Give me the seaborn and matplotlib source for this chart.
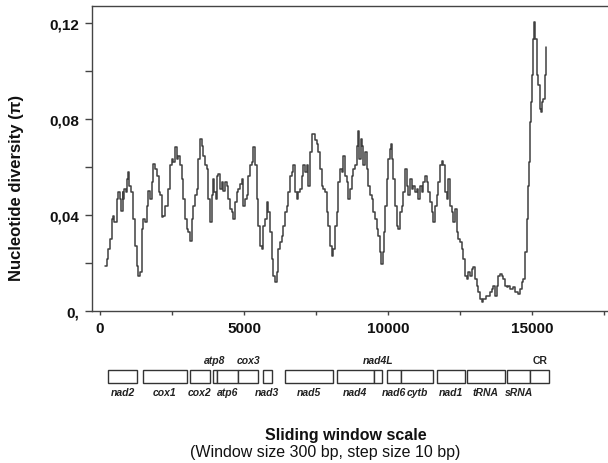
import matplotlib
matplotlib.use("Agg")
import matplotlib.pyplot as plt
import seaborn as sns
import pandas as pd
from matplotlib.patches import Rectangle
from matplotlib.ticker import FixedLocator, FixedFormatter

# ---------------- data ----------------
position_bp = [
    170, 230, 290, 350, 400, 460, 490, 580, 640, 690,
    730, 780, 810, 840, 900, 950, 980, 1020, 1060, 1160,
    1220, 1270, 1330, 1390, 1450, 1500, 1560, 1620, 1680, 1740,
    1790, 1850, 1910, 1970, 2030, 2080, 2140, 2200, 2260, 2370,
    2430, 2490, 2550, 2600, 2660, 2720, 2780, 2840, 2890, 2950,
    3010, 3070, 3120, 3180, 3240, 3300, 3360, 3410, 3470, 3530,
    3590, 3650, 3700, 3760, 3820, 3880, 3910, 3960, 4030, 4070,
    4110, 4170, 4220, 4280, 4340, 4400, 4460, 4510, 4570, 4630,
    4690, 4750, 4800, 4860, 4920, 4980, 5030, 5090, 5150, 5210,
    5270, 5320, 5380, 5440, 5500, 5560, 5610, 5670, 5730, 5790,
    5840, 5900, 5960, 6020, 6080, 6130, 6190, 6250, 6310, 6370,
    6420, 6480, 6540, 6600, 6650, 6710, 6770, 6830, 6890, 6940,
    7000, 7060, 7120, 7180, 7230, 7290, 7350, 7410, 7460, 7520,
    7580, 7640, 7700, 7750, 7810, 7870, 7930, 7990, 8040, 8100,
    8160, 8220, 8270, 8330, 8390, 8450, 8510, 8560, 8620, 8680,
    8740, 8800, 8850, 8910, 8950, 9000, 9050, 9100, 9140, 9200,
    9260, 9320, 9370, 9430, 9490, 9550, 9610, 9660, 9720, 9760,
    9810, 9860, 9900, 9950, 10010, 10070, 10100, 10150, 10180, 10240,
    10300, 10360, 10420, 10470, 10530, 10590, 10650, 10710, 10760, 10820,
    10880, 10940, 10990, 11050, 11110, 11170, 11230, 11280, 11340, 11400,
    11460, 11520, 11570, 11630, 11690, 11750, 11800, 11860, 11920, 11980,
    12040, 12090, 12150, 12210, 12270, 12330, 12380, 12440, 12500, 12560,
    12610, 12670, 12730, 12790, 12850, 12900, 12960, 13020, 13080, 13140,
    13190, 13250, 13310, 13420, 13540, 13600, 13660, 13710, 13770, 13830,
    13890, 13950, 14000, 14060, 14120, 14180, 14240, 14290, 14350, 14410,
    14470, 14520, 14580, 14640, 14700, 14760, 14810, 14870, 14890, 14930,
    14950, 14990, 15020, 15060, 15100, 15160, 15220, 15280, 15310, 15360,
    15390, 15450, 15480,
]

pi_values = [
    0.0189, 0.0217, 0.0258, 0.0300, 0.0383, 0.0397, 0.0369, 0.0467, 0.0494, 0.0467,
    0.0418, 0.0494, 0.0467, 0.0508, 0.0494, 0.0550, 0.0578, 0.0522, 0.0494, 0.0383,
    0.0272, 0.0189, 0.0147, 0.0161, 0.0342, 0.0383, 0.0369, 0.0439, 0.0501, 0.0467,
    0.0536, 0.0613, 0.0592, 0.0564, 0.0494, 0.0481, 0.0390, 0.0397, 0.0439, 0.0508,
    0.0606, 0.0633, 0.0619, 0.0682, 0.0633, 0.0647, 0.0606, 0.0550, 0.0467, 0.0383,
    0.0342, 0.0328, 0.0293, 0.0383, 0.0439, 0.0481, 0.0508, 0.0633, 0.0717, 0.0689,
    0.0647, 0.0606, 0.0592, 0.0467, 0.0369, 0.0481, 0.0550, 0.0494, 0.0467, 0.0564,
    0.0571, 0.0508, 0.0536, 0.0501, 0.0536, 0.0522, 0.0467, 0.0425, 0.0411, 0.0383,
    0.0453, 0.0494, 0.0508, 0.0529, 0.0550, 0.0439, 0.0467, 0.0481, 0.0564, 0.0606,
    0.0619, 0.0682, 0.0606, 0.0467, 0.0356, 0.0272, 0.0258, 0.0356, 0.0383, 0.0453,
    0.0411, 0.0328, 0.0217, 0.0147, 0.0119, 0.0161, 0.0258, 0.0286, 0.0314, 0.0356,
    0.0411, 0.0439, 0.0494, 0.0564, 0.0578, 0.0606, 0.0494, 0.0467, 0.0494, 0.0508,
    0.0564, 0.0606, 0.0578, 0.0606, 0.0522, 0.0661, 0.0738, 0.0738, 0.0710, 0.0696,
    0.0661, 0.0592, 0.0522, 0.0508, 0.0494, 0.0411, 0.0356, 0.0272, 0.0228, 0.0258,
    0.0356, 0.0411, 0.0536, 0.0592, 0.0578, 0.0647, 0.0564, 0.0536, 0.0467, 0.0508,
    0.0564, 0.0592, 0.0606, 0.0689, 0.0751, 0.0633, 0.0717, 0.0689, 0.0606, 0.0661,
    0.0592, 0.0522, 0.0481, 0.0467, 0.0411, 0.0383, 0.0342, 0.0314, 0.0244, 0.0196,
    0.0244, 0.0328, 0.0439, 0.0550, 0.0633, 0.0675, 0.0696, 0.0633, 0.0550, 0.0439,
    0.0356, 0.0342, 0.0411, 0.0439, 0.0494, 0.0592, 0.0522, 0.0481, 0.0550, 0.0508,
    0.0522, 0.0494, 0.0508, 0.0467, 0.0522, 0.0494, 0.0536, 0.0564, 0.0536, 0.0494,
    0.0453, 0.0411, 0.0369, 0.0439, 0.0481, 0.0536, 0.0606, 0.0626, 0.0606, 0.0494,
    0.0467, 0.0550, 0.0439, 0.0411, 0.0369, 0.0425, 0.0328, 0.0300, 0.0286, 0.0258,
    0.0217, 0.0147, 0.0133, 0.0161, 0.0147, 0.0175, 0.0182, 0.0133, 0.0106, 0.0078,
    0.0050, 0.0036, 0.0050, 0.0064, 0.0078, 0.0092, 0.0106, 0.0064, 0.0106, 0.0147,
    0.0154, 0.0147, 0.0133, 0.0106, 0.0099, 0.0106, 0.0092, 0.0092, 0.0099, 0.0078,
    0.0078, 0.0071, 0.0092, 0.0119, 0.0133, 0.0244, 0.0383, 0.0522, 0.0619, 0.0786,
    0.0869, 0.0981, 0.1133, 0.1203, 0.1133, 0.0981, 0.0939, 0.0842, 0.0828, 0.0869,
    0.0883, 0.0981, 0.1099,
]

gene_names = ["nad2", "cox1", "cox2", "atp8", "atp6", "cox3", "nad3", "nad5",
              "nad4", "nad4L", "nad6", "cytb", "nad1", "tRNA", "sRNA", "CR"]
gene_start = [270, 1500, 3120, 3930, 4060, 4780, 5650, 6420,
              8220, 9510, 9970, 10450, 11690, 12750, 14140, 14930]
gene_end = [1300, 3010, 3820, 4060, 4780, 5500, 5960, 8100,
            9510, 9800, 10450, 11570, 12670, 14060, 14930, 15600]
gene_label_above = [False, False, False, True, False, True, False, False,
                    False, True, False, False, False, False, False, True]

y_major_ticks = [0, 0.04, 0.08, 0.12]
y_major_labels = ["0,", "0,04", "0,08", "0,12"]
y_minor_ticks = [0.02, 0.06, 0.10]
x_major_ticks = [0, 5000, 10000, 15000]
x_major_labels = ["0", "5000", "10000", "15000"]
x_minor_ticks = [2500, 7500, 12500, 17500]

# ---------------- style ----------------
sns.set_theme(style="ticks")
plt.rcParams["font.family"] = ["Liberation Sans", "DejaVu Sans"]

W, H = 608, 464
fig = plt.figure(figsize=(W / 100, H / 100), dpi=100)
fig.patch.set_facecolor("white")

ax = fig.add_axes([92 / W, 1 - 312 / H, 1 - 92 / W, 305 / H])
df = pd.DataFrame({"pos": position_bp, "pi": pi_values})
sns.lineplot(data=df, x="pos", y="pi", ax=ax, color="#404040",
             linewidth=1.1, drawstyle="steps-post", estimator=None)

XMIN, XMAX = -280, 17640
ax.set_xlim(XMIN, XMAX)
ax.set_ylim(0, 0.127)
ax.set_xlabel("")
ax.set_ylabel("")

spine_col = "#444444"
for s in ["left", "top", "bottom"]:
    ax.spines[s].set_color(spine_col)
    ax.spines[s].set_linewidth(1.0)
ax.spines["right"].set_visible(False)

ax.yaxis.set_major_locator(FixedLocator(y_major_ticks))
ax.yaxis.set_major_formatter(FixedFormatter(y_major_labels))
ax.yaxis.set_minor_locator(FixedLocator(y_minor_ticks))
ax.xaxis.set_major_locator(FixedLocator(x_major_ticks))
ax.xaxis.set_major_formatter(FixedFormatter(x_major_labels))
ax.xaxis.set_minor_locator(FixedLocator(x_minor_ticks))

ax.tick_params(axis="y", which="both", direction="out", length=5, width=1,
               color=spine_col, pad=4, left=True)
ax.tick_params(axis="x", which="both", direction="out", length=3, width=1,
               color=spine_col, pad=4, bottom=True)
for lab in ax.get_xticklabels() + ax.get_yticklabels():
    lab.set_fontweight("bold")
    lab.set_fontsize(11)
    lab.set_color("#111111")

fig.text(17 / W, 1 - 188 / H, "Nucleotide diversity (\u03c0)", rotation=90,
         ha="center", va="center", fontsize=12, fontweight="bold",
         color="#111111")

# ---------------- gene map ----------------
gax = fig.add_axes([92 / W, 1 - 405 / H, 1 - 92 / W, 50 / H])
gax.set_xlim(XMIN, XMAX)
gax.set_ylim(50, 0)
gax.axis("off")
for name, s, e, above in zip(gene_names, gene_start, gene_end, gene_label_above):
    gax.add_patch(Rectangle((s, 16), e - s, 13, facecolor="white",
                            edgecolor="#333333", linewidth=1.0))
    cx = (s + e) / 2
    style = "normal" if name == "CR" else "italic"
    gax.text(cx, 6 if above else 38, name, ha="center", va="center",
             fontsize=7.5, fontstyle=style, fontweight="bold", color="#222222")

fig.text(346 / W, 1 - 436 / H, "Sliding window scale", ha="center",
         va="center", fontsize=11.5, fontweight="bold", color="#111111")
fig.text(325 / W, 1 - 453 / H, "(Window size 300 bp, step size 10 bp)",
         ha="center", va="center", fontsize=11.5, color="#111111")

fig.savefig("out.png", dpi=100)
